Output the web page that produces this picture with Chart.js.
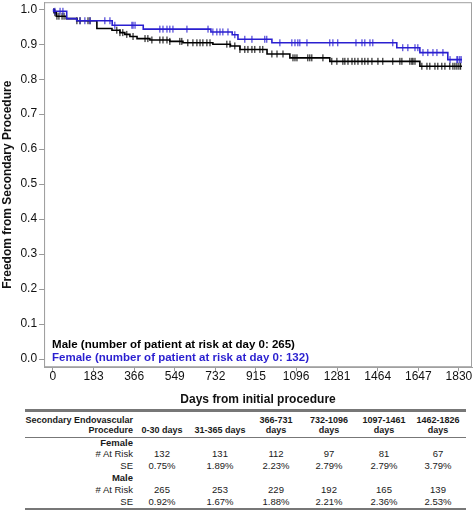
<!DOCTYPE html>
<html>
<head>
<meta charset="utf-8">
<script src="https://cdn.jsdelivr.net/npm/chart.js@4.4.1/dist/chart.umd.min.js"></script>
<style>
  body { margin: 0; background: #fff; font-family: "Liberation Sans", Arial, sans-serif; overflow: hidden; width: 474px; }
  #wrap { position: relative; width: 477px; height: 414px; margin-top: -7px; }
  table { border-collapse: collapse; margin-left: 25px; margin-top: 2px; width: 441px; font-size: 9.5px; color: #1a1a1a; table-layout: fixed; }
  table.risk { border-top: 3px solid #777; border-bottom: 3px solid #777; }
  th { font-weight: bold; font-size: 9px; text-align: center; padding: 0; line-height: 10px; vertical-align: bottom; }
  thead tr { border-bottom: 1px solid #777; }
  thead th { padding-top: 3px; padding-bottom: 2px; }
  td { text-align: center; padding: 0; line-height: 12px; white-space: nowrap; }
  tbody tr:first-child td { line-height: 10px; }
  td.lab { text-align: right; padding-right: 3px; }
  td.grp { text-align: right; padding-right: 3px; font-weight: bold; }
</style>
</head>
<body>
<div id="wrap"><canvas id="km"></canvas></div>
<table class="risk" id="risk"></table>
<script>
// step points: [day, survival]
const maleDays = [0, 5, 15, 60, 108, 198, 266, 302, 324, 347, 379, 437, 527, 586, 721, 800, 843, 965, 1068, 1248, 1654, 1844];
const maleSurv = [1.0, 0.99, 0.98, 0.973, 0.967, 0.945, 0.94, 0.933, 0.928, 0.922, 0.916, 0.912, 0.908, 0.904, 0.900, 0.895, 0.885, 0.872, 0.861, 0.851, 0.837, 0.837];
const femaleDays = [0, 3, 62, 107, 267, 407, 712, 808, 834, 987, 1550, 1654, 1780, 1844];
const femaleSurv = [1.0, 0.994, 0.973, 0.967, 0.954, 0.943, 0.935, 0.927, 0.914, 0.904, 0.890, 0.876, 0.856, 0.856];

// censored observations (days)
const maleCensor = [9, 18, 27, 41, 50, 108, 122, 158, 167, 288, 302, 315, 333, 361, 415, 428, 446, 482, 496, 514, 527, 572, 581,
  608, 631, 649, 663, 676, 694, 708, 784, 798, 820, 843, 865, 879, 897, 910, 933, 946, 987, 1010, 1037, 1082, 1091, 1100,
  1149, 1158, 1167, 1217, 1257, 1280, 1307, 1316, 1330, 1348, 1361, 1375, 1393, 1406, 1420, 1438, 1465, 1487, 1532, 1564,
  1573, 1609, 1618, 1623, 1632, 1663, 1686, 1699, 1722, 1735, 1753, 1767, 1789, 1803, 1812, 1821, 1830, 1838];
const femaleCensor = [9, 32, 45, 122, 144, 167, 234, 257, 279, 356, 361, 370, 482, 496, 514, 527, 541, 604, 699, 721, 739, 753,
  766, 789, 820, 865, 897, 955, 964, 1023, 1077, 1091, 1104, 1113, 1145, 1248, 1262, 1284, 1366, 1393, 1406, 1429, 1442,
  1532, 1577, 1600, 1632, 1645, 1668, 1690, 1713, 1731, 1758, 1790, 1821, 1825, 1834, 1840];

const xTicks = [0, 183, 366, 549, 732, 915, 1096, 1281, 1464, 1647, 1830];
const yTicks = [0, 0.1, 0.2, 0.3, 0.4, 0.5, 0.6, 0.7, 0.8, 0.9, 1.0];

const legendLabels = ['Male (number of patient at risk at day 0: 265)', 'Female (number of patient at risk at day 0: 132)'];
const maleColor = '#000000';
const femaleColor = '#2a1fd0';

// risk table
const periods = ['0-30 days', '31-365 days', '366-731 days', '732-1096 days', '1097-1461 days', '1462-1826 days'];
const femaleAtRisk = [132, 131, 112, 97, 81, 67];
const femaleSE = ['0.75%', '1.89%', '2.23%', '2.79%', '2.79%', '3.79%'];
const maleAtRisk = [265, 253, 229, 192, 165, 139];
const maleSE = ['0.92%', '1.67%', '1.88%', '2.21%', '2.36%', '2.53%'];

function survAt(days, surv, t) {
  let v = surv[0];
  for (let i = 0; i < days.length; i++) {
    if (days[i] <= t) v = surv[i];
  }
  return v;
}

const toPts = (d, s) => d.map((x, i) => ({x: x, y: s[i]}));
const censorPts = (c, d, s) => c.map(x => ({x: x, y: survAt(d, s, x)}));

const boxPlugin = {
  id: 'box',
  afterDraw(chart) {
    const {ctx, chartArea: a} = chart;
    ctx.save();
    ctx.strokeStyle = '#a0a0a0';
    ctx.lineWidth = 1;
    ctx.strokeRect(a.left + 0.5, a.top + 0.5, a.right - a.left - 1, a.bottom - a.top - 1);
    ctx.font = 'bold 11.5px "Liberation Sans", Arial, sans-serif';
    ctx.textBaseline = 'middle';
    ctx.fillStyle = maleColor;
    ctx.fillText(legendLabels[0], a.left + 8, a.bottom - 22);
    ctx.fillStyle = femaleColor;
    ctx.fillText(legendLabels[1], a.left + 8, a.bottom - 9);
    ctx.restore();
  }
};

new Chart(document.getElementById('km'), {
  type: 'line',
  data: {
    datasets: [
      {label: 'Female', data: toPts(femaleDays, femaleSurv), stepped: true, borderColor: femaleColor, borderWidth: 1.6, pointRadius: 0, order: 1},
      {label: 'Female censored', type: 'scatter', data: censorPts(femaleCensor, femaleDays, femaleSurv), pointStyle: 'line', rotation: 90, pointRadius: 3.5, borderColor: femaleColor, backgroundColor: femaleColor, borderWidth: 1, order: 0},
      {label: 'Male', data: toPts(maleDays, maleSurv), stepped: true, borderColor: maleColor, borderWidth: 1.6, pointRadius: 0, order: 3},
      {label: 'Male censored', type: 'scatter', data: censorPts(maleCensor, maleDays, maleSurv), pointStyle: 'line', rotation: 90, pointRadius: 3.5, borderColor: maleColor, backgroundColor: maleColor, borderWidth: 1, order: 2}
    ]
  },
  options: {
    responsive: true,
    maintainAspectRatio: false,
    animation: false,
    layout: {padding: {top: 2, right: 0, left: 0, bottom: 0}},
    plugins: {legend: {display: false}, tooltip: {enabled: false}},
    scales: {
      x: {
        type: 'linear', min: -40, max: 1889,
        afterBuildTicks: s => { s.ticks = xTicks.map(v => ({value: v})); },
        ticks: {autoSkip: false, maxRotation: 0, color: '#111', font: {size: 12, family: '"Liberation Sans", Arial'}, padding: -2,
          callback: v => String(v)},
        grid: {drawOnChartArea: false, drawTicks: true, tickLength: 4, color: '#999'},
        border: {display: true, color: '#a0a0a0'},
        title: {display: true, text: 'Days from initial procedure', color: '#111', font: {size: 12, weight: 'bold', family: '"Liberation Sans", Arial'}, padding: {top: 11, bottom: 0}}
      },
      y: {
        type: 'linear', min: -0.023, max: 1.02,
        afterBuildTicks: s => { s.ticks = yTicks.map(v => ({value: v})); },
        ticks: {autoSkip: false, color: '#111', font: {size: 12, family: '"Liberation Sans", Arial'}, padding: 2,
          callback: v => v.toFixed(1)},
        grid: {drawOnChartArea: false, drawTicks: true, tickLength: 5, color: '#999'},
        border: {display: true, color: '#a0a0a0'},
        title: {display: true, text: 'Freedom from Secondary Procedure', color: '#111', font: {size: 12, weight: 'bold', family: '"Liberation Sans", Arial'}, padding: {top: 0, bottom: 4}}
      }
    }
  },
  plugins: [boxPlugin]
});

// build the risk table
const colWidths = [111, 52, 64, 48, 58, 52, 56];
const tbl = document.getElementById('risk');
let html = '<colgroup>' + colWidths.map(w => '<col style="width:' + w + 'px">').join('') + '</colgroup>';
html += '<thead><tr><th style="text-align:right;padding-right:3px">Secondary Endovascular<br>Procedure</th>';
periods.forEach(p => {
  const parts = p.split(' ');
  html += '<th>' + (p.length > 11 ? parts[0] + '<br>' + parts[1] : p) + '</th>';
});
html += '</tr></thead><tbody>';
const addRow = (lab, vals, cls) => {
  html += '<tr><td class="' + cls + '">' + lab + '</td>' + vals.map(v => '<td>' + v + '</td>').join('') + '</tr>';
};
addRow('Female', periods.map(() => ''), 'grp');
addRow('# At Risk', femaleAtRisk, 'lab');
addRow('SE', femaleSE, 'lab');
addRow('Male', periods.map(() => ''), 'grp');
addRow('# At Risk', maleAtRisk, 'lab');
addRow('SE', maleSE, 'lab');
html += '</tbody>';
tbl.innerHTML = html;
</script>
</body>
</html>
